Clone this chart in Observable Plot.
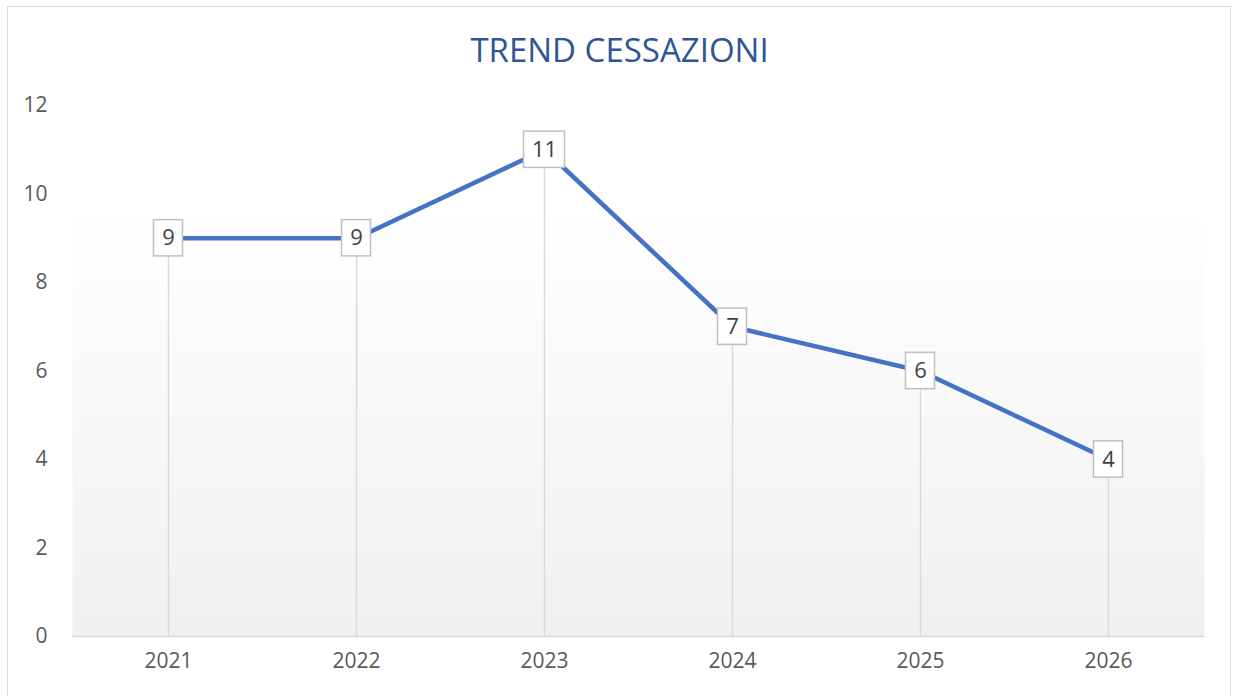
<!DOCTYPE html>
<html>
<head>
<meta charset="utf-8">
<script src="https://cdn.jsdelivr.net/npm/d3@7"></script>
<script src="https://cdn.jsdelivr.net/npm/@observablehq/plot@0.6"></script>
<style>
  html, body { margin: 0; padding: 0; background: #fff; }
  #wrap { position: relative; width: 1234px; height: 696px; overflow: hidden; }
  #border { position: absolute; left: 7px; top: 6px; width: 1224px; height: 700px; border: 1px solid #d9d9d9; box-sizing: border-box; }
  #chart { position: absolute; left: 0; top: 0; }
</style>
</head>
<body>
<div id="wrap"><div id="border"></div><div id="chart"></div></div>
<script>
const years = ["2021", "2022", "2023", "2024", "2025", "2026"];
const values = [9, 9, 11, 7, 6, 4];
const yTicks = [0, 2, 4, 6, 8, 10, 12];
const title = "TREND CESSAZIONI";

const data = years.map((y, i) => ({year: y, v: values[i], label: String(values[i])}));

const defs = () => {
  const ns = "http://www.w3.org/2000/svg";
  const d = document.createElementNS(ns, "defs");
  d.innerHTML = `<linearGradient id="bg" x1="0" y1="0" x2="0" y2="1">
    <stop offset="0" stop-color="#ffffff"/><stop offset="0.2" stop-color="#ffffff"/>
    <stop offset="1" stop-color="#f0f0f0"/></linearGradient>`;
  return d;
};

const chart = Plot.plot({
  width: 1234,
  height: 696,
  marginTop: 105,
  marginBottom: 60,
  marginLeft: 72,
  marginRight: 30,
  style: {background: "transparent", fontFamily: "'Open Sans', sans-serif", fontSize: "21px", color: "#595959", overflow: "visible"},
  x: {domain: years, type: "band", padding: 0, align: 0.5, label: null, tickSize: 0, tickPadding: 17},
  y: {domain: [0, 12], ticks: yTicks, label: null, tickSize: 0, tickPadding: 25},
  marks: [
    defs,
    Plot.frame({fill: "url(#bg)", stroke: null}),
    Plot.ruleX(data, {x: "year", y1: 0, y2: "v", stroke: "#d9d9d9", strokeWidth: 1.5}),
    Plot.ruleY([0], {stroke: "#d9d9d9", strokeWidth: 1.5}),
    Plot.line(data, {x: "year", y: "v", stroke: "#4472C4", strokeWidth: 4.5, strokeLinejoin: "round"}),
    Plot.barY(data.filter(d => d.label.length === 1), {x: "year", y1: d => d.v - 0.41, y2: d => d.v + 0.41, fill: "white", stroke: "#bfbfbf", strokeWidth: 1.5, insetLeft: 79.5, insetRight: 79.5}),
    Plot.barY(data.filter(d => d.label.length > 1), {x: "year", y1: d => d.v - 0.41, y2: d => d.v + 0.41, fill: "white", stroke: "#bfbfbf", strokeWidth: 1.5, insetLeft: 73.5, insetRight: 73.5}),
    Plot.text(data, {x: "year", y: "v", text: "label", fill: "#404040", fontSize: 22, fontFamily: "'Open Sans', sans-serif"}),
    Plot.text([title], {frameAnchor: "top", dy: -67, dx: -19, text: d => d, fill: "#2F5597", fontSize: 33, fontFamily: "'Liberation Sans Narrow', 'Open Sans', sans-serif"})
  ]
});
document.getElementById("chart").appendChild(chart);
</script>
</body>
</html>
